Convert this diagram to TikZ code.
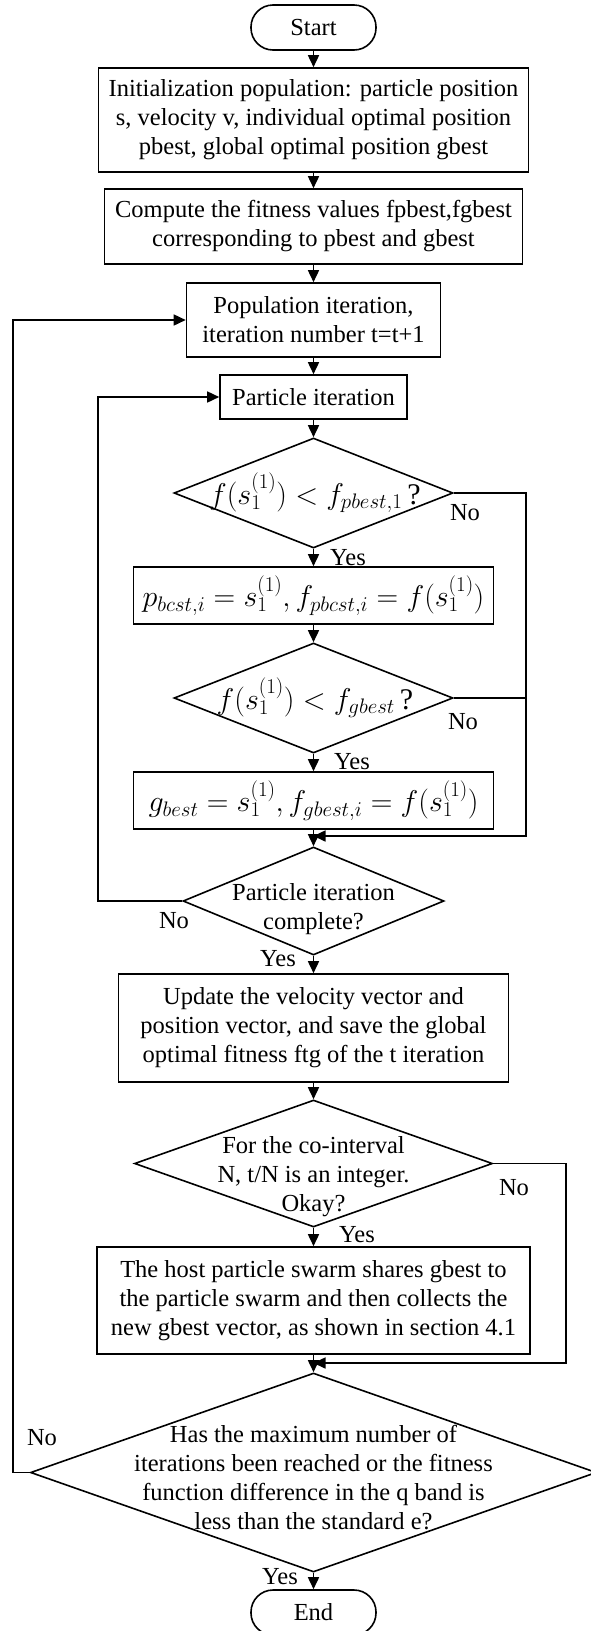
\RequirePackage{fix-cm}
\documentclass[tikz,border=0pt]{standalone}
\usepackage{fontspec}
\setmainfont{Liberation Serif}
\usetikzlibrary{shapes.geometric,arrows.meta}
\newcommand{\flowfont}{\fontsize{24.5}{29}\selectfont}
\newcommand{\mathfont}{\fontsize{30}{34}\selectfont}

\begin{document}
\begin{tikzpicture}[
  x=1pt,y=-1pt,
  box/.style={rectangle,draw,line width=1.6pt,inner sep=0pt,align=center,font=\flowfont},
  term/.style={box,rounded corners=22pt,minimum width=125pt,minimum height=45pt},
  dia/.style={diamond,draw,line width=1.6pt,inner sep=0pt},
  dtxt/.style={align=center,font=\flowfont,inner sep=0pt},
  mtxt/.style={inner sep=0pt,font=\mathfont},
  lbl/.style={font=\flowfont,inner sep=0pt},
  ar/.style={line width=1.6pt,-{Triangle[length=12pt,width=11pt]}},
  ln/.style={line width=1.6pt},
]

% page frame
\fill[white] (0,0) rectangle (590,1631);
\useasboundingbox (0,0) rectangle (590,1631);

% ---- main column -------------------------------------------------------
\node[term] (start) at (313.5,27.5) {Start};
\node[box,minimum width=430pt,minimum height=104pt] (init) at (313.5,120)
  {Initialization population: particle position\\s, velocity v, individual optimal position\\pbest, global optimal position gbest};
\node[box,minimum width=418pt,minimum height=75pt] (fit) at (313.5,226.5)
  {Compute the fitness values fpbest,fgbest\\corresponding to pbest and gbest};
\node[box,minimum width=254pt,minimum height=74pt] (pop) at (313.5,320)
  {Population iteration,\\iteration number t=t+1};
\node[box,minimum width=187pt,minimum height=44pt] (part) at (313.5,397) {Particle iteration};

% inner particle loop
\node[dia,minimum width=279pt,minimum height=110pt] (d1) at (313.5,493) {};
\node[mtxt] (d1t) at (315,493) {$f(s_1^{(1)})<f_{pbest,1}$\,?};
\node[box,minimum width=360pt,minimum height=57pt,font=\mathfont] (pupd) at (313.5,595.5)
  {$p_{bcst,i}=s_1^{(1)},f_{pbcst,i}=f(s_1^{(1)})$};
\node[dia,minimum width=279pt,minimum height=110pt] (d2) at (313.5,698) {};
\node[mtxt] (d2t) at (315,698) {$f(s_1^{(1)})<f_{gbest}$\,?};
\node[box,minimum width=360pt,minimum height=57pt,font=\mathfont] (gupd) at (313.5,800.5)
  {$g_{best}=s_1^{(1)},f_{gbest,i}=f(s_1^{(1)})$};
\node[dia,minimum width=261pt,minimum height=108pt] (d3) at (313.5,901) {};
\node[dtxt] (d3t) at (313.5,909) {Particle iteration\\complete?};

% swarm update
\node[box,minimum width=390pt,minimum height=108pt] (upd) at (313.5,1028)
  {Update the velocity vector and\\position vector, and save the global\\optimal fitness ftg of the t iteration};
\node[dia,minimum width=358pt,minimum height=127pt] (d4) at (313.5,1163.5) {};
\node[dtxt] (d4t) at (313.5,1177) {For the co-interval\\N, t/N is an integer.\\Okay?};
\node[box,minimum width=433pt,minimum height=107pt] (host) at (313.5,1300.5)
  {The host particle swarm shares gbest to\\the particle swarm and then collects the\\new gbest vector, as shown in section 4.1};
\node[dia,minimum width=566pt,minimum height=199pt] (d5) at (313.5,1472.5) {};
\node[dtxt] (d5t) at (313.5,1478)
  {Has the maximum number of\\iterations been reached or the fitness\\function difference in the q band is\\less than the standard e?};
\node[term] (end) at (313.5,1612.5) {End};

% merge points
\coordinate (m1) at (313.5,836);
\coordinate (m1r) at (526,836);
\coordinate (m2) at (313.5,1363);
\coordinate (m2r) at (566,1363);

% ---- connectors ----------------------------------------------------------
\draw[ar] (start) -- (init);
\draw[ar] (init) -- (fit);
\draw[ar] (fit) -- (pop);
\draw[ar] (pop) -- (part);
\draw[ar] (part) -- (d1);
\draw[ar] (d1) -- (pupd);
\draw[ar] (pupd) -- (d2);
\draw[ar] (d2) -- (gupd);
\draw[ar] (gupd) -- (d3);
\draw[ar] (d1.east) -| (m1r) -- (m1);
\draw[ln] (d2.east) -- (d2.east -| m1r);
\draw[ar] (d3.west) -- ++(-84,0) |- (part.west);
\draw[ar] (d3) -- (upd);
\draw[ar] (upd) -- (d4);
\draw[ar] (d4) -- (host);
\draw[ar] (d4.east) -| (m2r) -- (m2);
\draw[ar] (host) -- (d5);
\draw[ar] (d5.west) -- ++(-17,0) |- (pop.west);
\draw[ar] (d5) -- (end);

% ---- branch labels -------------------------------------------------------
\node[lbl] (no1) at (465,513) {No};
\node[lbl] (yes1) at (348,558) {Yes};
\node[lbl] (no2) at (463,722) {No};
\node[lbl] (yes2) at (352,762) {Yes};
\node[lbl] (no3) at (174,921) {No};
\node[lbl] (yes3) at (278,959) {Yes};
\node[lbl] (no4) at (514,1188) {No};
\node[lbl] (yes4) at (357,1235) {Yes};
\node[lbl] (no5) at (42,1438) {No};
\node[lbl] (yes5) at (280,1577) {Yes};

\end{tikzpicture}
\end{document}
